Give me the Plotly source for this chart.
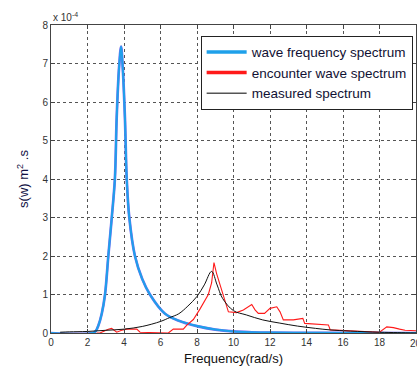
import plotly.graph_objects as go

# values in units of 1e-4
wave_x = [0, 2.3, 2.45, 2.6, 2.78, 2.96, 3.14, 3.33, 3.5, 3.6, 3.73, 3.84, 3.93, 4.05, 4.15, 4.29, 4.6, 5.0, 5.42, 6.25, 7.0, 8.0, 9.0, 10.0, 11.0, 12.0, 14.0, 16.0, 20.0]
wave_y = [0, 0, 0.05, 0.2, 0.5, 1.0, 2.0, 3.0, 4.0, 5.6, 6.9, 7.44, 6.9, 5.6, 4.0, 3.0, 2.0, 1.4, 1.0, 0.5, 0.32, 0.18, 0.09, 0.04, 0.02, 0.01, 0.005, 0.002, 0.0]

enc_x = [2.5, 2.68, 3.14, 3.32, 3.6, 3.87, 4.15, 4.7, 4.88, 6.43, 6.7, 7.25, 7.43, 7.8, 8.16, 8.35, 8.62, 8.8, 8.93, 9.07, 9.35, 9.62, 9.72, 10.17, 10.54, 11.0, 11.18, 11.36, 11.7, 12.0, 12.37, 12.55, 12.73, 13.28, 13.46, 13.8, 13.9, 15.2, 15.3, 16.4, 16.75, 17.5, 18.0, 18.4, 18.76, 19.1, 19.4, 20.0]
enc_y = [0, 0, 0.1, 0.12, 0.02, 0.07, 0.1, 0.1, 0.02, 0.0, 0.1, 0.1, 0.2, 0.35, 0.62, 0.78, 1.0, 1.3, 1.83, 1.55, 1.12, 0.73, 0.55, 0.53, 0.6, 0.74, 0.6, 0.51, 0.51, 0.64, 0.68, 0.55, 0.34, 0.34, 0.36, 0.38, 0.25, 0.21, 0.08, 0.06, 0.05, 0.04, 0.02, 0.16, 0.14, 0.1, 0.07, 0.06]

meas_x = [0.5, 1, 2, 3, 4, 5, 6, 6.5, 7, 7.5, 8, 8.4, 8.8, 9.1, 9.4, 10, 10.7, 11.6, 12.5, 13.5, 14.5, 15.3, 16.4, 18, 19, 20]
meas_y = [0.02, 0.03, 0.04, 0.07, 0.1, 0.17, 0.3, 0.4, 0.5, 0.7, 0.95, 1.25, 1.6, 1.25, 0.9, 0.58, 0.47, 0.34, 0.26, 0.18, 0.12, 0.08, 0.05, 0.02, 0.01, 0.0]

x_ticks = [0, 2, 4, 6, 8, 10, 12, 14, 16, 18, 20]
y_ticks = [0, 1, 2, 3, 4, 5, 6, 7, 8]

BLUE = "#1ea0ea"
RED = "#ff1a1a"
BLACK = "#111111"

fig = go.Figure()
# plotted curves (legend entries are drawn separately with thicker samples)
fig.add_trace(go.Scatter(x=wave_x, y=wave_y, mode="lines", showlegend=False, line_shape="spline",
                         line=dict(color="#7a6cf0", width=2.7), hoverinfo="skip"))
fig.add_trace(go.Scatter(x=wave_x, y=wave_y, mode="lines", showlegend=False, line_shape="spline",
                         line=dict(color=BLUE, width=2.0)))
fig.add_trace(go.Scatter(x=enc_x, y=enc_y, mode="lines", showlegend=False,
                         line=dict(color=RED, width=1.1)))
fig.add_trace(go.Scatter(x=meas_x, y=meas_y, mode="lines", showlegend=False, line_shape="spline",
                         line=dict(color=BLACK, width=1)))
# legend samples
fig.add_trace(go.Scatter(x=[None], y=[None], mode="lines", name="wave frequency spectrum",
                         line=dict(color=BLUE, width=3.5)))
fig.add_trace(go.Scatter(x=[None], y=[None], mode="lines", name="encounter wave spectrum",
                         line=dict(color=RED, width=3.5)))
fig.add_trace(go.Scatter(x=[None], y=[None], mode="lines", name="measured spectrum",
                         line=dict(color="#555555", width=1.5)))

axis_common = dict(showline=True, linecolor="#444444", linewidth=1, mirror="ticks",
                   ticks="inside", ticklen=4, tickcolor="#444444",
                   showgrid=True, gridcolor="#555555", griddash="dot", gridwidth=1,
                   zeroline=False, tickfont=dict(family="Arial", size=10, color="#333333"))

fig.update_layout(
    width=417, height=367,
    margin=dict(l=51, r=1, t=25, b=34),
    paper_bgcolor="white", plot_bgcolor="white",
    xaxis=dict(range=[0, 20], tickvals=x_ticks, **axis_common,
               title=dict(text="Frequency(rad/s)", font=dict(family="Arial", size=13, color="#111111"), standoff=6)),
    yaxis=dict(range=[0, 8], tickvals=y_ticks, **axis_common,
               title=dict(text="s(w) m<sup>2</sup> .s", font=dict(family="Arial", size=13, color="#111144"), standoff=10)),
    legend=dict(x=0.41, y=0.965, xanchor="left", yanchor="top",
                bgcolor="white", bordercolor="#222222", borderwidth=1,
                font=dict(family="Arial", size=13.5, color="#111133"),
                tracegroupgap=0, itemwidth=40),
    annotations=[
        dict(text="x 10<sup>-4</sup>", xref="paper", yref="paper", x=0.0, y=1.0,
             xanchor="left", yanchor="bottom", showarrow=False,
             font=dict(family="Arial", size=10, color="#333333")),
        dict(text=str(x_ticks[-1]), xref="x", yref="paper", x=x_ticks[-1], y=0, yshift=-3,
             xanchor="center", yanchor="top", showarrow=False,
             font=dict(family="Arial", size=10, color="#333333")),
    ],
)

fig.write_html("out.html")
